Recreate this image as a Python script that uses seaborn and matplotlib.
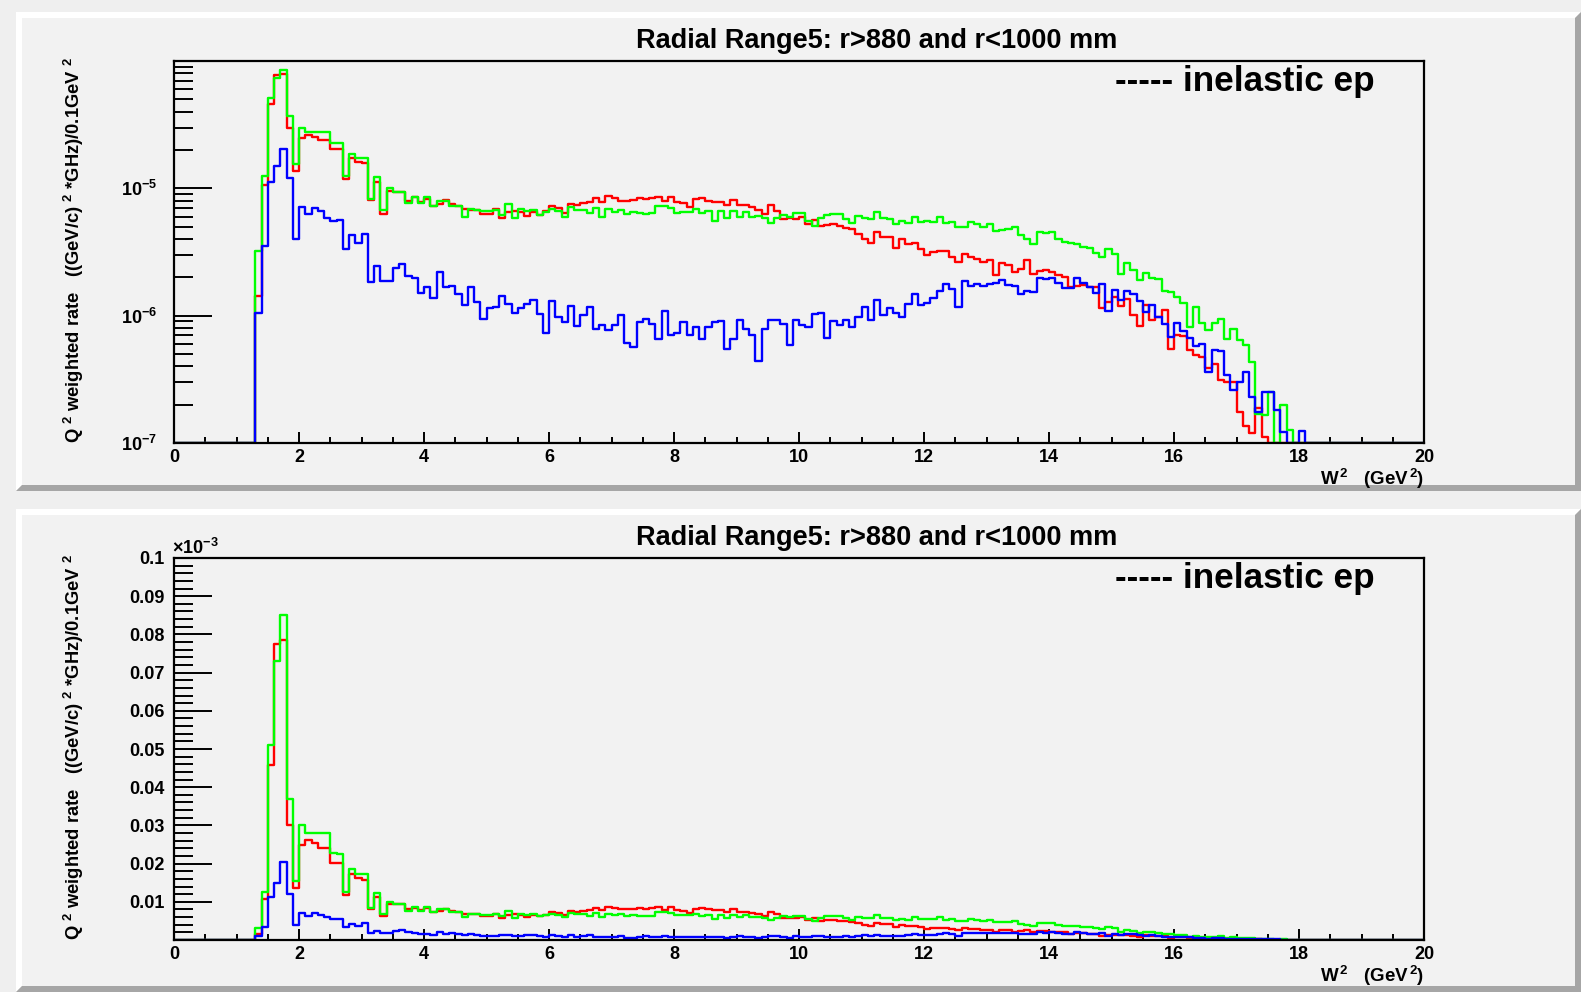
import numpy as np
import pandas as pd
import matplotlib
matplotlib.use("Agg")
import matplotlib.pyplot as plt
import seaborn as sns
from matplotlib.patches import Polygon, Rectangle
from matplotlib.ticker import (FixedLocator, MultipleLocator, LogLocator,
                               NullFormatter, FuncFormatter)

# ---------------- data (rate per 0.1 GeV^2 bin, in units of 1e-6) ----------------
N_BINS = 200
W2_MIN, W2_MAX = 0.0, 20.0
FIRST_BIN = 13          # first non-empty bin (W^2 = 1.3)

red_rate = [
    1.44, 10.7, 45.7, 77.6, 78.6, 30.0, 13.7, 25.0, 26.2, 25.5, 24.0, 24.0, 20.2, 20.2, 11.8,
    17.4, 16.2, 15.7, 8.1, 11.3, 6.25, 9.5, 9.4, 9.4, 8.0, 8.5, 7.8, 8.3, 7.3, 7.5, 8.1, 7.6,
    7.3, 6.9, 6.7, 6.7, 6.25, 6.25, 6.9,
    5.82, 6.56, 6.68, 6.56, 6.06, 6.56, 6.18, 6.64, 7.30, 6.97, 6.44, 7.48, 7.39, 7.71, 7.76,
    8.35, 7.76, 8.70, 8.44, 7.99, 7.99, 8.09, 8.44, 8.24, 8.44, 8.55, 7.94, 8.60, 7.86, 7.71,
    7.17, 8.24, 8.44, 7.99, 7.86, 7.86, 7.39, 8.09, 7.39, 7.39, 7.17, 6.76, 6.29, 7.39, 6.68,
    5.71, 5.82, 5.71, 5.99, 5.25, 5.64, 5.06, 5.16,
    5.25, 5.06, 4.85, 4.79, 4.38, 3.98, 3.70, 4.51, 4.12, 4.17, 3.38, 3.98, 3.66, 3.70, 3.32,
    2.99, 3.18, 3.24, 3.24, 2.90, 2.65, 3.04, 2.90, 2.81, 2.65, 2.73, 2.08, 2.57, 2.50, 2.22,
    2.31, 2.73, 2.12, 2.25, 2.28, 2.22, 2.08, 2.02, 1.69, 1.72, 1.74, 1.69, 1.67, 1.15, 1.27,
    1.41, 1.20, 1.35, 1.01, 0.83, 1.21,
    0.93, 0.98, 1.11, 0.55, 0.70, 0.69, 0.535, 0.49, 0.47, 0.385, 0.42, 0.31, 0.30, 0.30,
    0.175, 0.135, 0.12, 0.19, 0.112,
]

green_rate = [
    3.2, 12.6, 51.0, 73.0, 85.0, 37.0, 15.4, 30.0, 27.9, 27.9, 27.9, 27.9, 22.7, 22.5, 12.5,
    18.5, 17.4, 17.2, 8.3, 12.3, 6.8, 10.0, 9.3, 9.3, 7.7, 8.6, 7.7, 8.6, 7.2, 8.0, 8.0, 7.2,
    7.2, 6.0, 6.9, 6.7, 6.6, 6.6, 6.8,
    6.18, 7.48, 5.82, 6.84, 6.64, 6.76, 6.18, 6.56, 6.84, 6.64, 5.99, 7.08, 6.76, 6.76, 6.36,
    6.97, 5.99, 6.93, 6.56, 6.76, 6.29, 6.56, 6.36, 6.25, 6.36, 7.26, 7.26, 6.97, 6.44, 6.48,
    6.56, 6.84, 6.36, 6.64, 5.57, 6.64, 5.89, 6.64, 5.92, 6.48, 5.99, 6.06, 5.82, 5.31, 5.82,
    6.18, 5.99, 6.36, 6.36, 5.54, 5.09, 5.82, 6.18,
    6.29, 6.25, 5.71, 5.31, 6.10, 5.82, 5.75, 6.56, 5.82, 5.71, 5.25, 5.54, 5.31, 5.92, 5.47,
    5.54, 5.47, 5.99, 5.31, 5.47, 4.94, 5.00, 5.47, 5.25, 4.94, 5.25, 4.65, 4.71, 4.76, 4.94,
    4.30, 4.00, 3.66, 4.51, 4.43, 4.57, 3.98, 3.78, 3.72, 3.66, 3.44, 3.38, 3.12, 2.90, 3.34,
    3.04, 2.11, 2.57, 2.28, 1.92, 2.15,
    1.97, 1.93, 1.56, 1.53, 1.41, 1.25, 0.82, 1.16, 0.88, 0.77, 0.87, 0.94, 0.65, 0.79, 0.64,
    0.59, 0.43, 0.17, 0.167, 0.25, 0.0, 0.20, 0.127,
]

blue_rate = [
    1.05, 3.5, 11.3, 15.0, 20.4, 12.0, 4.0, 7.1, 6.25, 7.05, 6.6, 5.9, 5.5, 5.6, 3.33, 4.3,
    3.7, 4.4, 1.85, 2.47, 1.87, 1.87, 2.38, 2.56, 2.06, 1.96, 1.51, 1.69, 1.38, 2.19, 1.69,
    1.72, 1.47, 1.21, 1.67, 1.27, 0.94, 1.14, 1.17,
    1.43, 1.23, 1.05, 1.15, 1.23, 1.33, 1.03, 0.73, 1.30, 0.98, 0.89, 1.19, 0.83, 1.01, 1.18,
    0.79, 0.84, 0.77, 0.85, 1.01, 0.61, 0.57, 0.89, 0.95, 0.86, 0.66, 1.09, 0.70, 0.73, 0.89,
    0.70, 0.81, 0.66, 0.82, 0.89, 0.91, 0.55, 0.66, 0.92, 0.79, 0.71, 0.44, 0.79, 0.92, 0.92,
    0.86, 0.59, 0.93, 0.84, 0.82, 1.03, 1.05, 0.67,
    0.91, 0.84, 0.92, 0.82, 0.97, 1.18, 0.93, 1.33, 1.01, 1.14, 1.04, 0.97, 1.23, 1.48, 1.21,
    1.26, 1.37, 1.57, 1.77, 1.61, 1.16, 1.87, 1.72, 1.76, 1.71, 1.77, 1.82, 1.90, 1.74, 1.72,
    1.48, 1.57, 1.53, 1.99, 1.93, 1.97, 1.82, 1.66, 1.66, 1.97, 1.79, 1.69, 1.50, 1.77, 1.09,
    1.59, 1.33, 1.55, 1.48, 1.30, 1.06,
    1.21, 0.97, 0.86, 0.68, 0.87, 0.76, 0.67, 0.58, 0.60, 0.36, 0.54, 0.53, 0.34, 0.26, 0.30,
    0.36, 0.23, 0.175, 0.25, 0.25, 0.18, 0.122, 0.0, 0.0, 0.125,
]

series_names = ["red", "green", "blue"]
series_colors = {"red": "#ff0000", "green": "#00ff00", "blue": "#0000ff"}
RATE_UNIT = 1e-6

title_text = "Radial Range5: r>880 and r<1000 mm"
legend_text = "----- inelastic ep"
ylabel_text = r"Q $^{2}$ weighted rate   ((GeV/c) $^{2}$ *GHz)/0.1GeV $^{2}$"
xlabel_text = r"W$^{\,2}$   (GeV$^{\,2}$)"
lin_ticks = [0.01, 0.02, 0.03, 0.04, 0.05, 0.06, 0.07, 0.08, 0.09, 0.1]
x_major_ticks = [0, 2, 4, 6, 8, 10, 12, 14, 16, 18, 20]

# ---------------- build long table ----------------
edges = np.linspace(W2_MIN, W2_MAX, N_BINS + 1)
rows = []
for name, vals in zip(series_names, [red_rate, green_rate, blue_rate]):
    full = np.zeros(N_BINS)
    full[FIRST_BIN:FIRST_BIN + len(vals)] = vals
    full = np.append(full, full[-1]) * RATE_UNIT
    for x, v in zip(edges, full):
        rows.append({"series": name, "W2": x, "rate": v})
df = pd.DataFrame(rows)
LOG_MIN, LOG_MAX = 1e-7, 1e-4
df["rate_log"] = df["rate"].clip(lower=LOG_MIN)
df["rate_lin"] = df["rate"] * 1e3

# ---------------- style ----------------
sns.set_style("ticks")
plt.rcParams["font.family"] = ["Liberation Sans", "DejaVu Sans"]
plt.rcParams["font.weight"] = "bold"
plt.rcParams["text.color"] = "black"
plt.rcParams["axes.labelcolor"] = "black"
plt.rcParams["xtick.color"] = "black"
plt.rcParams["ytick.color"] = "black"
plt.rcParams["mathtext.fontset"] = "custom"
plt.rcParams["mathtext.rm"] = "Liberation Sans:bold"
plt.rcParams["mathtext.bf"] = "Liberation Sans:bold"
plt.rcParams["mathtext.it"] = "Liberation Sans:bold:italic"
plt.rcParams["mathtext.sf"] = "Liberation Sans:bold"
plt.rcParams["mathtext.default"] = "bf"
plt.rcParams["axes.unicode_minus"] = True

W, H = 1581, 992
BG = "#efefef"
FACE = "#f2f2f2"
fig = plt.figure(figsize=(W / 100, H / 100), dpi=100, facecolor=BG)


def fx(px):
    return px / W


def fy(py):
    return 1 - py / H


def draw_pad(x0, y0, x1, y1, b=6):
    white = [(x0, y0), (x1, y0), (x1 - b, y0 + b), (x0 + b, y0 + b), (x0 + b, y1 - b), (x0, y1)]
    grey = [(x0, y1), (x1, y1), (x1, y0), (x1 - b, y0 + b), (x1 - b, y1 - b), (x0 + b, y1 - b)]
    for pts, col in ((white, "#ffffff"), (grey, "#a6a6a6")):
        fig.add_artist(Polygon([(fx(a), fy(c)) for a, c in pts], closed=True,
                               transform=fig.transFigure, facecolor=col, edgecolor="none",
                               zorder=0))
    fig.add_artist(Rectangle((fx(x0 + b), fy(y1 - b)), fx(x1 - x0 - 2 * b), (y1 - y0 - 2 * b) / H,
                             transform=fig.transFigure, facecolor=FACE, edgecolor="none",
                             zorder=0))


draw_pad(16, 12, 1581, 491)
draw_pad(16, 509, 1581, 992)

AX_L, AX_R = 174, 1424
panels = [(61, 443), (558, 940)]
axes = []
for top, bot in panels:
    ax = fig.add_axes([fx(AX_L), fy(bot), (AX_R - AX_L) / W, (bot - top) / H])
    ax.set_facecolor(FACE)
    axes.append(ax)
ax1, ax2 = axes

for ax, ycol in ((ax1, "rate_log"), (ax2, "rate_lin")):
    sns.lineplot(data=df, x="W2", y=ycol, hue="series", hue_order=series_names,
                 palette=series_colors, estimator=None, sort=False, legend=False,
                 drawstyle="steps-post", linewidth=1.7, ax=ax)
    ax.set_xlim(W2_MIN, W2_MAX)
    ax.set_xlabel("")
    ax.set_ylabel("")
    for sp in ax.spines.values():
        sp.set_visible(True)
        sp.set_linewidth(1.6)
        sp.set_color("black")
    ax.xaxis.set_major_locator(FixedLocator(x_major_ticks))
    ax.xaxis.set_minor_locator(MultipleLocator(0.5))
    ax.tick_params(axis="x", which="major", direction="in", length=8, width=1.4,
                   bottom=True, top=False, labelsize=13, pad=4, colors="black")
    ax.tick_params(axis="x", which="minor", direction="in", length=4.3, width=1.4,
                   bottom=True, top=False, colors="black")

# top: log scale
ax1.set_yscale("log")
ax1.set_ylim(LOG_MIN, LOG_MAX)
ax1.yaxis.set_major_locator(LogLocator(base=10, numticks=10))
ax1.yaxis.set_minor_locator(LogLocator(base=10, subs=np.arange(2, 10), numticks=20))
ax1.yaxis.set_minor_formatter(NullFormatter())


def log_fmt(v, pos):
    e = int(round(np.log10(v)))
    if e >= -4:
        return ""
    return r"$10^{%d}$" % e


ax1.yaxis.set_major_formatter(FuncFormatter(log_fmt))
ax1.tick_params(axis="y", which="major", direction="in", length=27, width=1.4,
                left=True, right=False, labelsize=13, pad=12, colors="black")
ax1.tick_params(axis="y", which="minor", direction="in", length=13.7, width=1.4,
                left=True, right=False, colors="black")

# bottom: linear scale (x 1e-3)
ax2.set_ylim(0, 0.1)
ax2.yaxis.set_major_locator(FixedLocator(lin_ticks))
ax2.yaxis.set_major_formatter(FuncFormatter(lambda v, p: "%g" % v))
ax2.yaxis.set_minor_locator(MultipleLocator(0.002))
ax2.tick_params(axis="y", which="major", direction="in", length=27, width=1.4,
                left=True, right=False, labelsize=13, pad=7, colors="black")
ax2.tick_params(axis="y", which="minor", direction="in", length=13.7, width=1.4,
                left=True, right=False, colors="black")

# texts
for off in (0, 497):
    fig.text(fx(877), fy(48 + off), title_text, ha="center", va="baseline",
             fontsize=19.5, fontweight="bold", color="black")
    fig.text(fx(1115), fy(91 + off), legend_text, ha="left", va="baseline",
             fontsize=25.3, fontweight="bold", color="black")
    fig.text(fx(74), fy(250 + off), ylabel_text, ha="center", va="center",
             rotation=90, fontsize=13.2, fontweight="bold", color="black")
    fig.text(fx(1424), fy(485 + off), xlabel_text, ha="right", va="baseline",
             fontsize=13.5, fontweight="bold", color="black")
fig.text(fx(172), fy(554), r"$\times10^{-3}$", ha="left", va="baseline", fontsize=13,
         color="black")

fig.savefig("out.png", dpi=100, facecolor=BG)
